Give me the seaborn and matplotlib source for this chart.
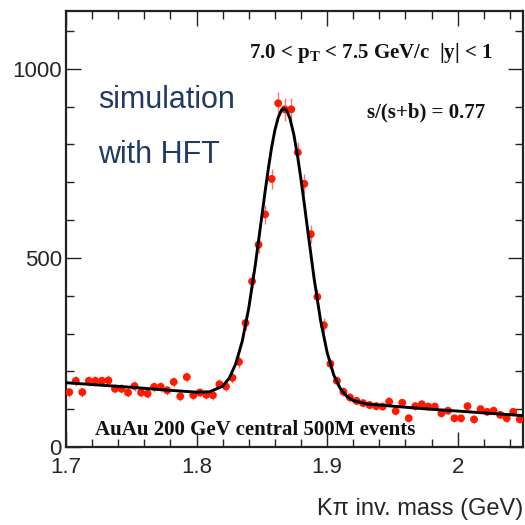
import numpy as np
import pandas as pd
import seaborn as sns
import matplotlib.pyplot as plt
from matplotlib.ticker import MultipleLocator

# D0 -> K pi invariant mass histogram, 5 MeV bins starting at 1.70 GeV
mass_min = 1.70
bin_width = 0.005
counts = [145, 175, 145, 175, 175, 175, 176, 154, 154, 144,
          161, 144, 141, 159, 159, 150, 172, 134, 185, 137,
          144, 138, 137, 166, 160, 183, 225, 328, 438, 535,
          615, 709, 909, 893, 893, 779, 696, 563, 397, 322,
          220, 175, 146, 131, 122, 116, 111, 108, 107, 120,
          95, 117, 76, 108, 113, 107, 107, 89, 96, 76,
          76, 108, 73, 100, 93, 96, 85, 76, 93, 73]

# fit curve (gaus + linear bkg)
fit_mass = [1.700, 1.725, 1.750, 1.775, 1.800, 1.810, 1.820, 1.825, 1.830, 1.835,
            1.840, 1.845, 1.850, 1.8525, 1.855, 1.8575, 1.860, 1.8625, 1.865, 1.867,
            1.869, 1.8715, 1.8745, 1.8775, 1.880, 1.8825, 1.885, 1.890, 1.895, 1.900,
            1.905, 1.910, 1.915, 1.920, 1.930, 1.950, 1.975, 2.000, 2.025, 2.050]
fit_counts = [170, 164, 158, 151, 145, 146, 161, 182, 220, 280,
              368, 482, 611, 676, 737, 793, 838, 871, 891, 895,
              890, 869, 826, 766, 707, 643, 576, 446, 334, 250,
              191, 155, 134, 123, 114, 108, 101, 95, 89, 83]

df = pd.DataFrame({
    'mass': mass_min + bin_width * (np.arange(len(counts)) + 0.5),
    'counts': counts,
})
df['err'] = np.sqrt(df['counts'])
fit_df = pd.DataFrame({'mass': fit_mass, 'counts': fit_counts})

sns.set_style("ticks")
plt.rcParams['font.family'] = ['Liberation Sans', 'DejaVu Sans']
plt.rcParams['mathtext.fontset'] = 'custom'
plt.rcParams['mathtext.rm'] = 'Liberation Serif:bold'
plt.rcParams['mathtext.it'] = 'Liberation Serif:bold'

fig = plt.figure(figsize=(5.25, 5.25), dpi=100)
ax = fig.add_axes([66 / 525, 78 / 525, 457 / 525, 436 / 525])

# error bars, points, then the fit on top
ax.errorbar(df['mass'], df['counts'], yerr=df['err'], fmt='none',
            ecolor='#ff7070', elinewidth=1.0, capsize=0, zorder=2)
sns.scatterplot(data=df, x='mass', y='counts', color='#ff1a00', s=32,
                edgecolor='none', linewidth=0, ax=ax, zorder=3)
sns.lineplot(data=fit_df, x='mass', y='counts', color='black', lw=2.1,
             ax=ax, zorder=4)

ax.set_xlim(1.7, 2.05)
ax.set_ylim(0, 1153)
ax.xaxis.set_minor_locator(MultipleLocator(0.02))
ax.yaxis.set_minor_locator(MultipleLocator(100))
ax.set_xticks([1.7, 1.8, 1.9, 2.0])
ax.set_xticklabels(['1.7', '1.8', '1.9', '2'])
ax.set_yticks([0, 500, 1000])
ax.set_yticklabels(['0', '500', '1000'])

ax.tick_params(which='both', direction='in', top=True, right=True,
               color='#222222', width=1.0)
ax.tick_params(which='major', length=11, labelsize=16)
ax.tick_params(which='minor', length=6)
ax.tick_params(axis='x', pad=7)
ax.tick_params(axis='y', pad=3)
for s in ax.spines.values():
    s.set_color('#222222')
    s.set_linewidth(1.6)

ax.set_xlabel('')
ax.set_ylabel('')
ax.text(1.0, -0.156, 'K\u03c0 inv. mass (GeV)', transform=ax.transAxes,
        ha='right', va='baseline', fontsize=17)

root_font = dict(family='Liberation Serif', fontweight='bold', color='#111111')
ax.text(0.667, 0.892, r'7.0 < $\mathrm{p_T}$ < 7.5 GeV/c  |y| < 1',
        transform=ax.transAxes, ha='center', va='baseline', fontsize=15, **root_font)
ax.text(0.788, 0.755, 's/(s+b) = 0.77', transform=ax.transAxes,
        ha='center', va='baseline', fontsize=15, **root_font)
ax.text(0.414, 0.027, 'AuAu 200 GeV central 500M events', transform=ax.transAxes,
        ha='center', va='baseline', fontsize=15, **root_font)

ax.text(0.07, 0.778, 'simulation', transform=ax.transAxes, ha='left',
        va='baseline', fontsize=22, color='#1f3a66')
ax.text(0.07, 0.651, 'with HFT', transform=ax.transAxes, ha='left',
        va='baseline', fontsize=22, color='#1f3a66')

if ax.get_legend() is not None:
    ax.get_legend().remove()

fig.savefig('out.png', dpi=100, facecolor='white')
